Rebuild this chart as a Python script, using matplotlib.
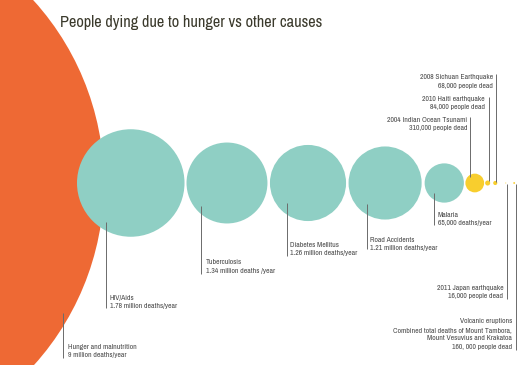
import matplotlib
matplotlib.use('Agg')
import matplotlib.pyplot as plt
from matplotlib.patches import Circle
from matplotlib import font_manager

# deaths in millions, drawn as circle radius
causes = ['Hunger and malnutrition', 'HIV/Aids', 'Tuberculosis', 'Diabetes Mellitus',
          'Road Accidents', 'Malaria', '2004 Indian Ocean Tsunami', '2010 Haiti earthquake',
          '2008 Sichuan Earthquake', '2011 Japan earthquake', 'Volcanic eruptions']
sizes = [9.0, 1.78, 1.34, 1.26, 1.21, 0.65, 0.31, 0.084, 0.068, 0.016, 0.03]
values = ['9 million deaths/year', '1.78 million deaths/year', '1.34 million deaths /year',
          '1.26 million deaths/year', '1.21 million deaths/year', '65,000 deaths/year',
          '310,000 people dead', '84,000 people dead', '68,000 people dead',
          '16,000 people dead',
          'Combined total deaths of Mount Tambora,\nMount Vesuvius and Krakatoa\n160, 000 people dead']
colors = ['#EE6934'] + ['#8FCFC4'] * 5 + ['#F8CE2E'] * 5


def pick_font():
    # look for a condensed / narrow face, else plain DejaVu Sans
    for f in font_manager.fontManager.ttflist:
        if ('Narrow' in f.name or 'Condensed' in f.name) and f.style == 'normal':
            return font_manager.FontProperties(fname=f.fname), True
    for f in font_manager.fontManager.ttflist:
        if f.name == 'DejaVu Sans' and f.stretch == 'condensed' and f.style == 'normal' \
                and f.weight in ('normal', 400, 'book'):
            return font_manager.FontProperties(fname=f.fname), True
    return font_manager.FontProperties(family='DejaVu Sans'), False


fp, condensed = pick_font()

fig = plt.figure(figsize=(5.3, 3.65), dpi=100)
ax = fig.add_axes([0, 0, 1, 1])
ax.set_xlim(0, 530)
ax.set_ylim(365, 0)
ax.axis('off')

scale = 30.2   # px per million
cy = 183
gaps = [2, 2.5, 2.5, 3, 1.5, 1, 3, 8, 7]

# centres: hunger circle hangs off the left edge, others packed from HIV's left edge
radii = [s * scale for s in sizes]
xs = [104 - radii[0], 77 + radii[1]]
for i in range(2, len(radii)):
    xs.append(xs[-1] + radii[i - 1] + gaps[i - 2] + radii[i])

for x, r, c in zip(xs, radii, colors):
    ax.add_patch(Circle((x, cy), r, color=c, lw=0))

# label layout: line x, line top, line bottom, text x, first text line y, alignment
layout = [
    (62.7, 313, 358, 68, 346, 'left'),
    (106, 222, 308, 110, 297.3, 'left'),
    (201, 206, 274, 205.5, 261.7, 'left'),
    (286.7, 203, 256, 290, 244.3, 'left'),
    (367, 204, 249, 370.5, 239, 'left'),
    (434.3, 193, 225, 437.5, 214.3, 'left'),
    (470, 116.5, 177, 467.3, 119.3, 'right'),
    (488.7, 96.5, 181, 485, 98.3, 'right'),
    (495.7, 74, 182, 492.7, 76.7, 'right'),
    (506.7, 184, 299, 503.5, 287.3, 'right'),
    (515.7, 184, 350, 512, 320.7, 'right'),
]

lab_size = 5.5 if condensed else 4.6
for name, val, (lx, y0, y1, tx, ty, ha) in zip(causes, values, layout):
    ax.plot([lx, lx], [y0, y1], color='#6b6b6b', lw=0.7, solid_capstyle='butt')
    for k, line in enumerate((name + '\n' + val).split('\n')):
        ax.text(tx, ty + k * 8.5, line, ha=ha, va='center_baseline', fontproperties=fp,
                fontsize=lab_size, color='#4a4a4a')

title = ax.text(60, 22, 'People dying due to hunger vs other causes',
                fontproperties=fp, fontsize=12, color='#3b3a2c', va='center', ha='left')

# shrink the title until it spans roughly the same width as in the original
fig.canvas.draw()
renderer = fig.canvas.get_renderer()
w = title.get_window_extent(renderer).width
if w > 262:
    title.set_fontsize(12 * 262 / w)

fig.savefig('out.png', dpi=100)
